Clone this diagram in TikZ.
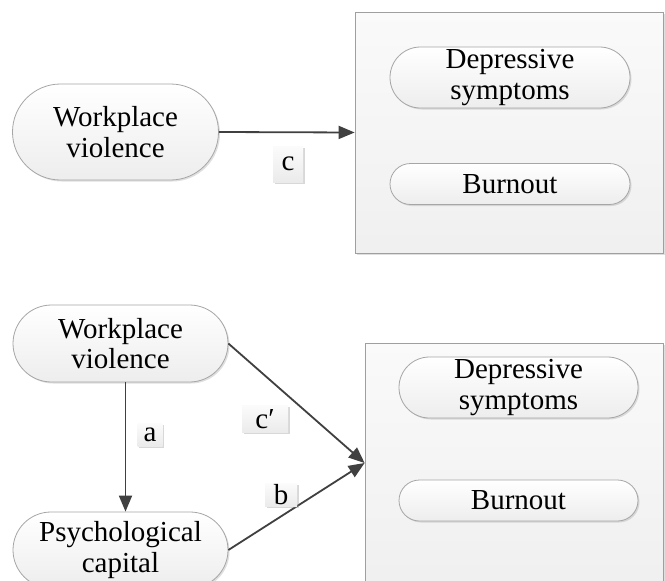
\documentclass[tikz,border=0pt]{standalone}
\usepackage{fontspec}
\setmainfont{Liberation Serif}
\usetikzlibrary{shapes.misc,arrows.meta,shadows}
\begin{document}
\begin{tikzpicture}[x=1pt,y=-1pt,
  every node/.style={font=\fontsize{29}{30.5}\selectfont, align=center, text=black},
  pill/.style={rounded rectangle, draw=gray!70, line width=0.8pt, inner sep=0pt,
    top color=white, bottom color=gray!14,
    drop shadow={shadow xshift=1.5pt, shadow yshift=-1.5pt, opacity=0.25}},
  outerbox/.style={rectangle, draw=gray!75, line width=0.8pt, inner sep=0pt,
    top color=gray!4, bottom color=gray!12,
    drop shadow={shadow xshift=1.5pt, shadow yshift=-1.5pt, opacity=0.25}},
  lbl/.style={rectangle, inner sep=0pt, top color=gray!3, bottom color=gray!16,
    drop shadow={shadow xshift=1.5pt, shadow yshift=-1.5pt, opacity=0.3}},
  conn/.style={draw=black!75, line width=1.8pt, -{Triangle[length=16pt,width=13pt]}}]
\useasboundingbox (0,0) rectangle (665,581);
\clip (0,0) rectangle (665,581);
\fill[white] (0,0) rectangle (665,581);
% top panel
\node[outerbox, minimum width=308pt, minimum height=241pt] (box1) at (509,132.5) {};
\node[pill, minimum width=240pt, minimum height=61pt] (dep1) at (510,77.5) {Depressive\\symptoms};
\node[pill, minimum width=240pt, minimum height=41pt] (burn1) at (510,184) {Burnout};
\node[pill, minimum width=206pt, minimum height=96pt] (wv1) at (115.5,132) {Workplace\\violence};
\draw[conn] (wv1.east) -- (box1.west);
\node[lbl, minimum width=30pt, minimum height=36pt] (lc) at (288,164) {c};
% bottom panel
\node[outerbox, minimum width=298pt, minimum height=240pt] (box2) at (514,463) {};
\node[pill, minimum width=239pt, minimum height=61pt] (dep2) at (518.5,387.5) {Depressive\\symptoms};
\node[pill, minimum width=239pt, minimum height=41pt] (burn2) at (518.5,500.5) {Burnout};
\node[pill, minimum width=215pt, minimum height=77pt] (wv2) at (120.5,343.5) {Workplace\\violence};
\node[pill, minimum width=215pt, minimum height=76pt] (pc) at (120.5,550) {Psychological\\capital};
\draw[conn] ([xshift=5pt]wv2.south) -- ([xshift=5pt]pc.north);
\draw[conn] (wv2.east) -- (box2.west);
\draw[conn] (pc.east) -- (box2.west);
\node[lbl, minimum width=25pt, minimum height=23pt] (la) at (150,435) {a};
\node[lbl, minimum width=46pt, minimum height=27pt] (lcp) at (265,419) {c\char"2032};
\node[lbl, minimum width=32pt, minimum height=23pt] (lb) at (281,495) {b};
\end{tikzpicture}
\end{document}
